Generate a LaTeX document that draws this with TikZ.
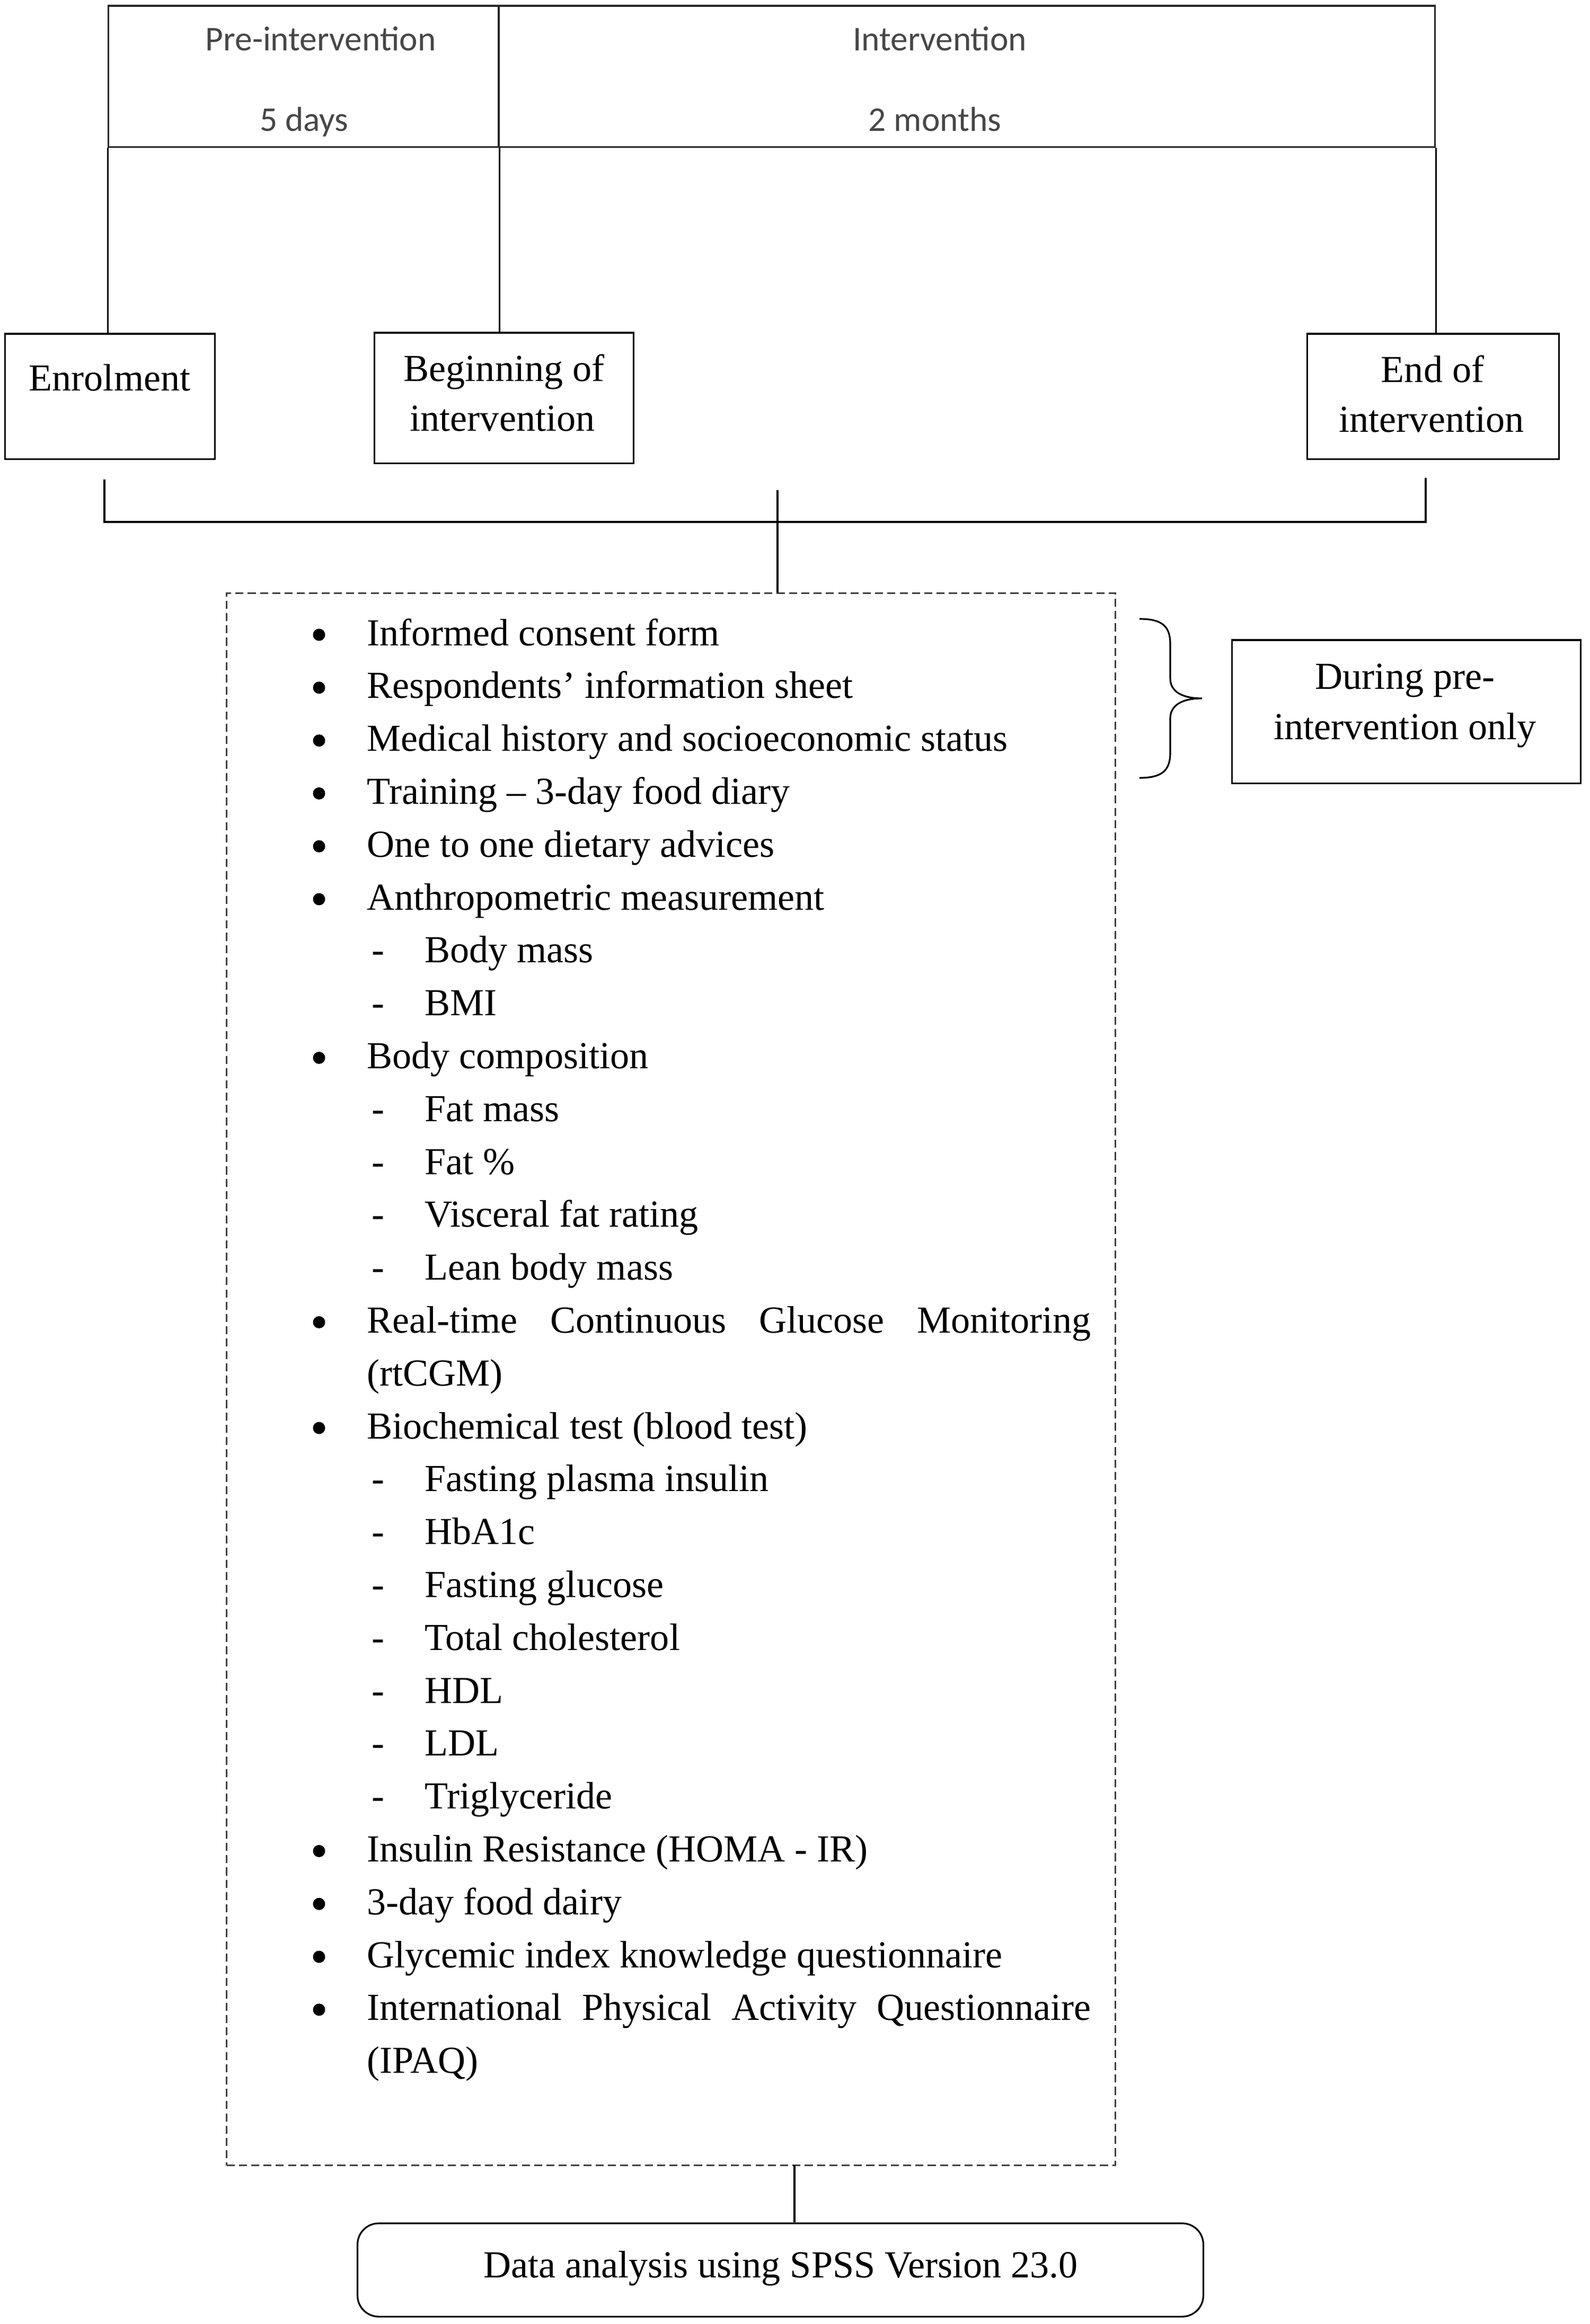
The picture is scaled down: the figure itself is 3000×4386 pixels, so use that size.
\documentclass[tikz,border=0pt]{standalone}
\usepackage{fontspec}
\setmainfont{Liberation Serif}
\newfontfamily\hdrfont{Carlito}
\newcommand{\listbul}[2]{%
  \node[bul] (b#1) at (602,{1198+(#1-1)*99.8}) {};
  \node[txt,anchor=base west] (t#1) at (691,{1218+(#1-1)*99.8}) {#2};}
\newcommand{\listsub}[2]{%
  \node[txt,anchor=base west] (d#1) at (700,{1218+(#1-1)*99.8}) {-};
  \node[txt,anchor=base west] (t#1) at (800,{1218+(#1-1)*99.8}) {#2};}
\newcommand{\listcont}[2]{%
  \node[txt,anchor=base west] (t#1) at (691,{1218+(#1-1)*99.8}) {#2};}
\begin{document}
\begin{tikzpicture}[x=0.01cm,y=-0.01cm,line width=0.9pt,
  box/.style={draw=black,rectangle,inner sep=0pt},
  hbox/.style={draw=black!85,rectangle,inner sep=0pt},
  dashbox/.style={draw=black!75,rectangle,inner sep=0pt,dash pattern=on 4.3pt off 2.3pt},
  roundbox/.style={draw=black,rectangle,rounded corners=0.4cm,inner sep=0pt},
  txt/.style={inner sep=0pt,font=\fontsize{20.5}{24}\selectfont},
  hdr/.style={inner sep=0pt,anchor=base,text=black!72,font=\hdrfont\fontsize{18.6}{22}\selectfont},
  bul/.style={circle,fill=black,inner sep=0pt,minimum size=0.23cm},
  conn/.style={draw=black,line width=0.9pt}]
\useasboundingbox (0,0) rectangle (3000,4386);
% header
\node[hbox,minimum width=7.36cm,minimum height=2.66cm] (pre) at (573,144) {};
\node[hbox,minimum width=17.66cm,minimum height=2.66cm] (intv) at (1824,144) {};
\node[hdr] (pret) at (605,95) {Pre-intervention};
\node[hdr] (pred) at (574,247) {5 days};
\node[hdr] (intt) at (1773,95) {Intervention};
\node[hdr] (intd) at (1764,247) {2 months};
% time-point boxes
\node[box,minimum width=3.95cm,minimum height=2.36cm] (enrol) at (207.5,748) {};
\node[box,minimum width=4.88cm,minimum height=2.46cm] (begin) at (951,751) {};
\node[box,minimum width=4.74cm,minimum height=2.36cm] (endi) at (2704,748) {};
\node[txt,anchor=base] (enrolt) at (207,737) {Enrolment};
\node[txt,anchor=base] (begt1) at (951,719) {Beginning of};
\node[txt,anchor=base] (begt2) at (948,813) {intervention};
\node[txt,anchor=base] (endt1) at (2703,721) {End of};
\node[txt,anchor=base] (endt2) at (2701,815) {intervention};
% connectors header -> boxes
\draw[conn] (pre.south west) -- (pre.south west |- enrol.north);
\draw[conn] (pre.south east) -- (pre.south east |- begin.north);
\draw[conn] (intv.south east) -- (intv.south east |- endi.north);
% bracket
\coordinate (brl) at (197,905);
\coordinate (brlb) at (197,985);
\coordinate (brrb) at (2690,985);
\coordinate (brr) at (2690,902);
\coordinate (stemtop) at (1467,925);
\draw[conn] (brl) -- (brlb) -- (brrb) -- (brr);
% list box
\node[dashbox,minimum width=16.76cm,minimum height=29.66cm] (list) at (1266,2603) {};
\draw[conn] (stemtop) -- (stemtop |- list.north);
\listbul{1}{Informed consent form}
\listbul{2}{Respondents’ information sheet}
\listbul{3}{Medical history and socioeconomic status}
\listbul{4}{Training – 3-day food diary}
\listbul{5}{One to one dietary advices}
\listbul{6}{Anthropometric measurement}
\listsub{7}{Body mass}
\listsub{8}{BMI}
\listbul{9}{Body composition}
\listsub{10}{Fat mass}
\listsub{11}{Fat \%}
\listsub{12}{Visceral fat rating}
\listsub{13}{Lean body mass}
\listbul{14}{\hbox to 13.65cm{Real-time\hfill Continuous\hfill Glucose\hfill Monitoring}}
\listcont{15}{(rtCGM)}
\listbul{16}{Biochemical test (blood test)}
\listsub{17}{Fasting plasma insulin}
\listsub{18}{HbA1c}
\listsub{19}{Fasting glucose}
\listsub{20}{Total cholesterol}
\listsub{21}{HDL}
\listsub{22}{LDL}
\listsub{23}{Triglyceride}
\listbul{24}{Insulin Resistance (HOMA - IR)}
\listbul{25}{3-day food dairy}
\listbul{26}{Glycemic index knowledge questionnaire}
\listbul{27}{\hbox to 13.65cm{International\hfill Physical\hfill Activity\hfill Questionnaire}}
\listcont{28}{(IPAQ)}
% brace and side note
\draw[conn] (2150,1168) .. controls (2190,1168) and (2208,1180) .. (2208,1215)
  -- (2208,1280) .. controls (2208,1305) and (2230,1318) .. (2268,1318)
  .. controls (2230,1318) and (2208,1331) .. (2208,1356)
  -- (2208,1421) .. controls (2208,1456) and (2190,1468) .. (2150,1468);
\node[box,minimum width=6.57cm,minimum height=2.70cm] (during) at (2653.5,1343) {};
\node[txt,anchor=base] (dur1) at (2651,1300) {During pre-};
\node[txt,anchor=base] (dur2) at (2651,1395) {intervention only};
% final box
\node[roundbox,minimum width=15.95cm,minimum height=1.76cm] (spss) at (1472.5,4284) {};
\node[txt,anchor=base] (spsst) at (1473,4298) {Data analysis using SPSS Version 23.0};
\coordinate (stembot) at (1499,4086);
\draw[conn] (stembot) -- (stembot |- spss.north);
\end{tikzpicture}
\end{document}
